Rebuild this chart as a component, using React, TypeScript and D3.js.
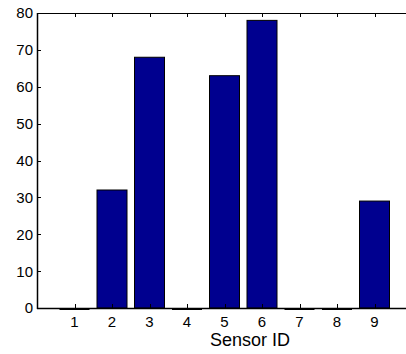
import React from "react";
import * as d3 from "d3";

const categories = [1, 2, 3, 4, 5, 6, 7, 8, 9];
const values = [0, 32, 68, 0, 63, 78, 0, 0, 29];
const yTicks = [0, 10, 20, 30, 40, 50, 60, 70, 80];
const xLabel = "Sensor ID";

export default function App() {
  const W = 406, H = 354;
  const left = 37, top = 13, bottom = 308;
  const x = d3.scaleLinear().domain([0, 10]).range([left, left + 375]);
  const y = d3.scaleLinear().domain([0, 80]).range([bottom, top]);
  const bw = (x(1) - x(0)) * 0.8;
  const font = "'Liberation Sans', Arial, Helvetica, sans-serif";
  return (
    <svg width={W} height={H} style={{ position: "absolute", left: 0, top: 0, background: "#fff" }}>
      <rect width={W} height={H} fill="#fff" />
      {categories.map((c, i) =>
        values[i] > 0 ? (
          <rect
            key={c}
            x={x(c) - bw / 2}
            y={y(values[i])}
            width={bw}
            height={y(0) - y(values[i])}
            fill="#00008f"
            stroke="#000"
            strokeWidth={1}
          />
        ) : (
          <line key={c} x1={x(c) - bw / 2} x2={x(c) + bw / 2} y1={y(0) + 1} y2={y(0) + 1} stroke="#000" strokeWidth={2} />
        )
      )}
      {/* axes lines */}
      <line x1={left} x2={W} y1={top + 0.5} y2={top + 0.5} stroke="#000" strokeWidth={1} />
      <line x1={left} x2={W} y1={bottom + 0.5} y2={bottom + 0.5} stroke="#000" strokeWidth={1.5} />
      <line x1={left + 0.5} x2={left + 0.5} y1={top} y2={bottom + 1} stroke="#000" strokeWidth={1.5} />
      {yTicks.map((t) => (
        <g key={t}>
          <line x1={left} x2={left + 4} y1={Math.round(y(t)) + 0.5} y2={Math.round(y(t)) + 0.5} stroke="#000" />
          <text x={left - 4} y={y(t)} dy="0.36em" textAnchor="end" fontFamily={font} fontSize={15} fill="#000">
            {t}
          </text>
        </g>
      ))}
      {categories.map((c) => (
        <g key={c}>
          <line x1={Math.round(x(c)) + 0.5} x2={Math.round(x(c)) + 0.5} y1={bottom} y2={bottom - 4} stroke="#000" />
          <line x1={Math.round(x(c)) + 0.5} x2={Math.round(x(c)) + 0.5} y1={top} y2={top + 4} stroke="#000" />
          <text x={x(c)} y={bottom + 19} textAnchor="middle" fontFamily={font} fontSize={15} fill="#000">
            {c}
          </text>
        </g>
      ))}
      <text x={250} y={346} textAnchor="middle" fontFamily={font} fontSize={18} fill="#000">
        {xLabel}
      </text>
    </svg>
  );
}
